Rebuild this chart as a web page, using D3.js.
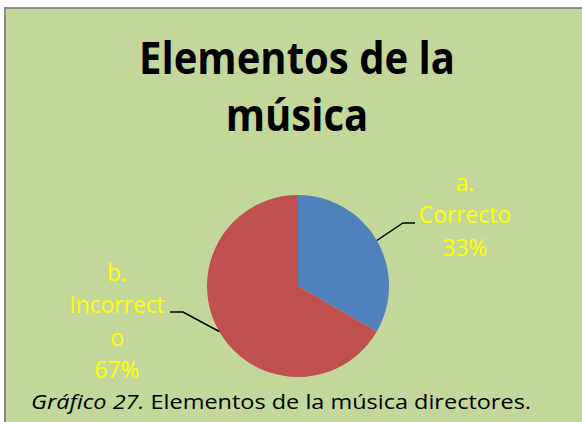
<!DOCTYPE html>
<meta charset="UTF-8">
<html>
<head>
<script src="https://d3js.org/d3.v7.min.js"></script>
<style>
  body { margin: 0; background: #fff; }
  svg { display: block; }
  text { font-family: "Open Sans", "Noto Sans", sans-serif; }
</style>
</head>
<body>
<div id="chart"></div>
<script>
// data
var categories = ["a. Correcto", "b. Incorrecto"];
var values = [1, 2];
var labelLines = [["a.", "Correcto", "33%"], ["b.", "Incorrect", "o", "67%"]];
var colors = ["#4f81bd", "#c0504d"];

var W = 582, H = 422;
var cx = 298, cy = 286, r = 91;

var svg = d3.select("#chart").append("svg")
    .attr("width", W).attr("height", H);

// chart area
svg.append("rect")
    .attr("x", 5).attr("y", 8)
    .attr("width", W + 10).attr("height", H + 10)
    .attr("fill", "#c4d79b")
    .attr("stroke", "#8c8c8c").attr("stroke-width", 2);

// squeeze wide fallback fonts toward Calibri's widths
function squeeze(sel, k) {
  sel.each(function () {
    var n = this.getComputedTextLength();
    d3.select(this).attr("textLength", n * k).attr("lengthAdjust", "spacingAndGlyphs");
  });
}

var title = svg.append("g").attr("font-weight", "bold").attr("font-size", 45)
    .attr("text-anchor", "middle").attr("fill", "#000");
title.selectAll("text").data(["Elementos de la", "música"]).enter()
  .append("text")
    .attr("x", 297)
    .attr("y", function (d, i) { return 74 + i * 57; })
    .text(function (d) { return d; })
    .call(squeeze, 0.89);

var pie = d3.pie().sort(null).value(function (d) { return d; });
var arc = d3.arc().innerRadius(0).outerRadius(r);
var arcs = pie(values);

var g = svg.append("g").attr("transform", "translate(" + cx + "," + cy + ")");
g.selectAll("path").data(arcs).enter().append("path")
    .attr("d", arc)
    .attr("fill", function (d, i) { return colors[i]; });

// leader lines: start on the rim at the slice mid angle
var labelPos = [{x: 465, y: 191, elbow: [403, 223], end: [415, 223]},
                {x: 117, y: 281, elbow: [183, 312], end: [170, 312]}];

arcs.forEach(function (d, i) {
  var a = (d.startAngle + d.endAngle) / 2;
  var p0 = [cx + Math.sin(a) * r, cy - Math.cos(a) * r];
  var lp = labelPos[i];
  svg.append("path")
      .attr("d", d3.line()([p0, lp.elbow, lp.end]))
      .attr("fill", "none").attr("stroke", "#000").attr("stroke-width", 1.5);

  svg.append("g").selectAll("text").data(labelLines[i]).enter()
    .append("text")
      .attr("x", lp.x)
      .attr("y", function (t, j) { return lp.y + j * 32.3; })
      .attr("text-anchor", "middle")
      .attr("font-size", 23.5)
      .attr("fill", "#ffff00")
      .text(function (t) { return t; })
      .call(squeeze, 0.97);
});

// caption
var cap = svg.append("text").attr("x", 31).attr("y", 409)
    .attr("font-size", 20).attr("fill", "#000");
cap.append("tspan").attr("font-style", "italic").text("Gráfico 27.");
cap.append("tspan").text(" Elementos de la música directores.");
cap.each(function () {
  d3.select(this).attr("textLength", 500).attr("lengthAdjust", "spacingAndGlyphs");
});
</script>
</body>
</html>
